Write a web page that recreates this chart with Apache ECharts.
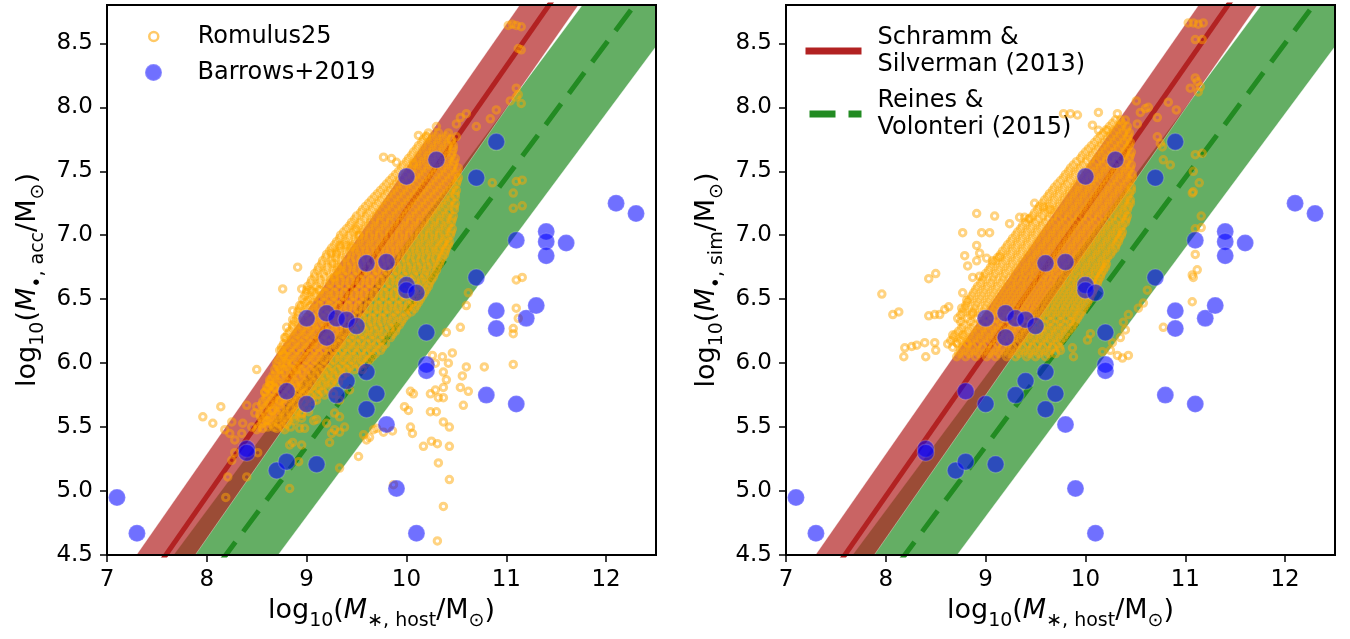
<!DOCTYPE html>
<html><head><meta charset="utf-8">
<script src="https://cdn.jsdelivr.net/npm/echarts@6/dist/echarts.min.js"></script>
<style>html,body{margin:0;padding:0;background:#fff}#c{width:1350px;height:639px}</style>
</head><body><div id="c"></div><script>
// ---------- data ----------
const xTicks = [7, 8, 9, 10, 11, 12];
const yTicks = [4.5, 5.0, 5.5, 6.0, 6.5, 7.0, 7.5, 8.0, 8.5];
// relations: [slope, intercept, band half-width (dex)]
const ssRelation = [1.12, -4.0, 0.33];          // Schramm & Silverman (2013)
const rvRelation = [1.05, 7.45 - 1.05 * 11, 0.55]; // Reines & Volonteri (2015)

const barrows = [[7.1,4.95],[7.3,4.67],[8.4,5.33],[8.4,5.30],[8.7,5.16],[8.8,5.23],[9.1,5.21],[8.8,5.78],[9.0,5.68],[9.3,5.75],[9.4,5.86],[9.6,5.64],[9.6,5.93],[9.7,5.76],[9.8,5.52],[9.9,5.02],[10.1,4.67],[10.2,5.99],[10.2,5.94],[9.0,6.35],[9.2,6.39],[9.3,6.35],[9.4,6.34],[9.5,6.29],[9.2,6.2],[9.6,6.78],[9.8,6.79],[10.0,6.61],[10.0,6.57],[10.1,6.55],[10.2,6.24],[10.7,6.67],[10.9,6.41],[10.9,6.27],[11.2,6.35],[11.3,6.45],[10.8,5.75],[11.1,5.68],[11.1,6.96],[11.4,7.03],[11.4,6.95],[11.4,6.84],[11.6,6.94],[12.1,7.25],[12.3,7.17],[10.0,7.46],[10.3,7.59],[10.7,7.45],[10.9,7.73]];

const leftSparse = [[11.02,8.64],[11.06,8.65],[11.1,8.64],[11.15,8.63],[11.12,8.46],[11.15,8.45],[11.1,8.15],[11.04,8.05],[11.1,8.08],[11.15,8.03],[11.12,8.1],[10.9,7.98],[10.84,7.91],[10.7,7.85],[10.6,7.95],[10.54,7.92],[10.5,7.87],[11.1,7.42],[11.16,7.43],[11.07,7.33],[10.86,7.41],[9.77,7.61],[9.85,7.6],[9.9,7.57],[10.07,7.56],[10.12,7.78],[10.2,7.77],[10.3,7.85],[10.5,7.77],[11.07,7.21],[11.16,7.23],[11.1,6.65],[11.16,6.67],[11.1,6.43],[11.12,6.35],[11.07,6.27],[11.07,6.23],[11.07,5.99],[10.78,5.97],[10.6,5.97],[10.56,5.9],[10.62,6.55],[10.6,6.45],[10.54,6.28],[10.46,6.08],[10.4,6.24],[10.42,6.0],[10.36,6.05],[10.37,5.93],[10.4,5.87],[10.26,6.06],[10.29,6.0],[10.54,5.81],[10.62,5.78],[10.57,5.67],[10.37,5.81],[10.29,5.79],[10.24,5.76],[10.32,5.73],[10.37,5.73],[10.04,5.78],[10.07,5.76],[9.98,5.66],[10.02,5.63],[10.24,5.62],[10.3,5.62],[10.37,5.54],[10.43,5.5],[10.04,5.5],[10.06,5.45],[10.17,5.35],[10.25,5.39],[10.31,5.37],[10.43,5.35],[10.32,5.22],[10.43,5.09],[10.37,4.88],[10.31,4.61],[9.87,5.05],[9.77,5.46],[9.86,5.47],[9.67,5.48],[9.63,5.42],[7.96,5.58],[8.06,5.53],[8.14,5.66],[8.18,5.48],[8.25,5.54],[8.23,5.45],[8.28,5.4],[8.25,5.24],[8.21,5.11],[8.19,4.95],[8.28,5.3],[8.4,5.11],[8.51,5.3],[8.4,5.67],[8.5,5.66],[8.36,5.53],[8.45,5.5],[8.5,5.48],[8.35,5.45],[8.48,5.61],[8.58,5.77],[8.63,5.83],[8.6,5.55],[8.56,5.49],[8.7,5.49],[8.78,5.48],[8.66,5.63],[8.73,5.71],[8.83,5.02],[8.92,5.23],[8.95,5.36],[8.83,5.36],[8.86,5.38],[8.93,5.49],[8.98,5.49],[9.07,5.55],[9.1,5.56],[9.2,5.53],[9.25,5.45],[9.28,5.48],[9.33,5.46],[9.23,5.38],[9.38,5.5],[9.33,5.18],[9.52,5.27],[9.6,5.4],[9.57,5.44],[9.7,5.49],[8.9,5.81],[8.97,5.76],[9.02,5.62],[9.1,5.71],[9.27,5.76],[9.33,5.71],[9.43,5.79],[9.28,5.61],[9.33,5.58],[8.95,5.61],[8.95,5.57],[8.91,6.75],[8.76,6.58],[8.95,6.58],[9.0,6.57],[9.05,6.56],[8.93,6.45],[9.01,6.49],[8.8,6.28],[8.78,6.2],[8.75,6.1],[8.77,6.06],[8.5,5.95],[8.63,5.87],[8.6,5.81],[8.68,5.81],[8.73,5.95],[8.8,6.0],[8.9,5.95],[8.86,6.34],[8.86,6.41],[9.13,6.57],[9.25,6.86],[9.3,6.86],[9.33,6.92],[9.4,6.92],[9.45,6.91],[9.5,7.04],[9.52,7.0],[9.27,6.78],[9.33,6.73],[9.27,6.67]];

// dense core of the left cloud, one row of read positions per y
const leftCoreY = [5.5,5.525,5.55,5.575,5.6,5.625,5.65,5.675,5.7,5.725,5.75,5.775,5.8,5.825,5.85,5.875,5.9,5.925,5.95,5.975,6.0,6.025,6.05,6.075,6.1,6.125,6.15,6.175,6.2,6.225,6.25,6.275,6.3,6.325,6.35,6.375,6.4,6.425,6.45,6.475,6.5,6.525,6.55,6.575,6.6,6.625,6.65,6.675,6.7,6.725,6.75,6.775,6.8,6.825,6.85,6.875,6.9,6.925,6.95,6.975,7.0,7.025,7.05,7.075,7.1,7.125,7.15,7.175,7.2,7.225,7.25,7.275,7.3,7.325,7.35,7.375,7.4,7.425,7.45,7.475,7.5,7.525,7.55,7.575,7.6,7.625,7.65,7.675,7.7,7.725,7.75,7.775,7.8];
const leftCoreX = [
 [8.52,8.61,8.67,8.76,8.84],
 [8.55,8.64,8.72,8.8],
 [8.56,8.63,8.72,8.81,8.88],
 [8.54,8.63,8.71,8.79,8.87],
 [8.53,8.62,8.71,8.79,8.87,8.95],
 [8.57,8.65,8.74,8.83,8.91],
 [8.58,8.66,8.74,8.84,8.92,9.0],
 [8.55,8.63,8.72,8.8,8.89,8.97],
 [8.56,8.64,8.73,8.82,8.9,8.98,9.06],
 [8.59,8.67,8.76,8.85,8.93,9.02],
 [8.6,8.69,8.78,8.86,8.95,9.03,9.11,9.18],
 [8.58,8.66,8.75,8.83,8.92,9.0,9.09,9.16],
 [8.61,8.68,8.77,8.85,8.94,9.03,9.12,9.22],
 [8.64,8.72,8.8,8.89,8.97,9.06,9.15,9.24],
 [8.63,8.72,8.81,8.89,8.98,9.07,9.16,9.25,9.32],
 [8.65,8.74,8.83,8.92,9.01,9.1,9.19,9.28],
 [8.66,8.74,8.83,8.91,9.0,9.09,9.18,9.27,9.36],
 [8.69,8.78,8.87,8.96,9.05,9.14,9.23,9.32,9.4],
 [8.68,8.77,8.86,8.95,9.04,9.13,9.22,9.31,9.4,9.48,9.56],
 [8.71,8.8,8.89,8.98,9.07,9.16,9.25,9.35,9.44,9.53],
 [8.7,8.79,8.87,8.96,9.05,9.14,9.23,9.33,9.42,9.52,9.6],
 [8.72,8.81,8.9,8.99,9.08,9.17,9.27,9.36,9.45,9.55,9.63],
 [8.74,8.83,8.92,9.01,9.1,9.19,9.28,9.38,9.47,9.57,9.66],
 [8.76,8.85,8.94,9.03,9.12,9.22,9.31,9.4,9.5,9.6,9.69],
 [8.73,8.82,8.9,8.99,9.08,9.17,9.27,9.36,9.46,9.55,9.65,9.74],
 [8.75,8.84,8.93,9.02,9.11,9.2,9.3,9.39,9.48,9.58,9.67,9.76],
 [8.77,8.86,8.95,9.04,9.13,9.22,9.32,9.41,9.5,9.6,9.7,9.79],
 [8.8,8.89,8.98,9.07,9.16,9.26,9.35,9.45,9.55,9.65,9.75],
 [8.79,8.88,8.97,9.06,9.15,9.24,9.34,9.43,9.53,9.63,9.73,9.84],
 [8.81,8.9,8.99,9.08,9.17,9.27,9.36,9.46,9.56,9.66,9.76,9.86],
 [8.83,8.92,9.01,9.1,9.19,9.28,9.38,9.48,9.58,9.68,9.78,9.89],
 [8.86,8.95,9.04,9.13,9.23,9.32,9.42,9.52,9.62,9.72,9.83,9.9],
 [8.86,8.95,9.04,9.13,9.22,9.32,9.41,9.51,9.61,9.71,9.82,9.93],
 [8.88,8.97,9.06,9.16,9.25,9.35,9.45,9.55,9.65,9.75,9.85,9.95],
 [8.9,8.99,9.08,9.17,9.27,9.36,9.46,9.56,9.66,9.76,9.87,9.97],
 [8.92,9.02,9.11,9.2,9.3,9.4,9.5,9.6,9.7,9.8,9.9,10.0],
 [8.91,9.0,9.09,9.18,9.28,9.37,9.47,9.57,9.67,9.77,9.88,9.98,10.05],
 [8.93,9.02,9.12,9.21,9.31,9.41,9.51,9.61,9.71,9.81,9.91,10.01,10.08],
 [8.95,9.04,9.13,9.23,9.32,9.42,9.52,9.62,9.72,9.82,9.92,10.02,10.1],
 [8.98,9.07,9.17,9.26,9.36,9.46,9.56,9.66,9.76,9.86,9.96,10.06,10.12],
 [8.96,9.05,9.14,9.24,9.33,9.43,9.53,9.63,9.73,9.83,9.93,10.04,10.14],
 [8.98,9.08,9.17,9.27,9.37,9.47,9.57,9.67,9.77,9.87,9.97,10.07,10.16],
 [9.0,9.09,9.19,9.28,9.38,9.48,9.58,9.68,9.78,9.88,9.98,10.08,10.18],
 [9.03,9.12,9.22,9.32,9.42,9.52,9.62,9.72,9.82,9.92,10.02,10.12,10.2],
 [9.01,9.1,9.2,9.29,9.39,9.49,9.59,9.69,9.79,9.9,10.0,10.11,10.22],
 [9.04,9.13,9.23,9.33,9.43,9.53,9.63,9.73,9.83,9.93,10.03,10.14,10.23],
 [9.05,9.14,9.24,9.34,9.44,9.54,9.64,9.74,9.84,9.94,10.05,10.15,10.25],
 [9.08,9.18,9.28,9.38,9.48,9.58,9.68,9.78,9.88,9.98,10.08,10.18,10.27],
 [9.08,9.17,9.27,9.36,9.46,9.56,9.66,9.76,9.86,9.96,10.07,10.18,10.28],
 [9.11,9.2,9.3,9.4,9.5,9.6,9.7,9.8,9.9,10.0,10.1,10.2,10.3],
 [9.12,9.21,9.31,9.41,9.51,9.61,9.71,9.81,9.91,10.01,10.11,10.21,10.31],
 [9.15,9.25,9.35,9.45,9.55,9.65,9.75,9.85,9.95,10.05,10.15,10.25,10.33],
 [9.16,9.25,9.35,9.44,9.54,9.64,9.74,9.84,9.94,10.04,10.14,10.24,10.34],
 [9.19,9.29,9.39,9.49,9.59,9.69,9.79,9.89,9.99,10.09,10.19,10.29,10.36],
 [9.2,9.3,9.4,9.5,9.6,9.7,9.8,9.9,10.0,10.1,10.2,10.3,10.38],
 [9.23,9.33,9.43,9.53,9.63,9.73,9.83,9.93,10.03,10.13,10.23,10.32,10.39],
 [9.25,9.34,9.44,9.54,9.64,9.74,9.84,9.94,10.04,10.14,10.24,10.33,10.4],
 [9.28,9.37,9.47,9.57,9.67,9.77,9.87,9.97,10.07,10.17,10.27,10.36,10.42],
 [9.3,9.39,9.49,9.59,9.69,9.79,9.89,9.99,10.09,10.19,10.29,10.38,10.43],
 [9.33,9.42,9.52,9.62,9.72,9.82,9.92,10.02,10.12,10.22,10.32,10.41],
 [9.34,9.43,9.53,9.63,9.73,9.83,9.93,10.03,10.13,10.23,10.33,10.44],
 [9.37,9.47,9.57,9.67,9.77,9.87,9.97,10.07,10.17,10.27,10.37,10.45],
 [9.4,9.49,9.59,9.69,9.79,9.89,9.99,10.09,10.19,10.29,10.39,10.46],
 [9.43,9.52,9.62,9.72,9.82,9.92,10.02,10.12,10.22,10.32,10.42],
 [9.45,9.54,9.64,9.74,9.84,9.94,10.04,10.14,10.24,10.34,10.45],
 [9.48,9.58,9.68,9.78,9.88,9.98,10.08,10.18,10.28,10.38,10.46],
 [9.5,9.6,9.7,9.8,9.9,10.0,10.1,10.2,10.3,10.4,10.47],
 [9.54,9.63,9.73,9.83,9.93,10.03,10.13,10.23,10.33,10.43],
 [9.56,9.66,9.76,9.86,9.96,10.06,10.16,10.26,10.36,10.48],
 [9.59,9.69,9.79,9.89,9.99,10.09,10.19,10.29,10.39,10.48],
 [9.62,9.72,9.82,9.92,10.02,10.12,10.22,10.32,10.42,10.49],
 [9.65,9.75,9.85,9.95,10.05,10.15,10.25,10.35,10.45],
 [9.68,9.78,9.88,9.98,10.08,10.18,10.28,10.38,10.49],
 [9.71,9.81,9.91,10.01,10.11,10.21,10.31,10.41,10.49],
 [9.74,9.84,9.94,10.04,10.14,10.24,10.34,10.44,10.5],
 [9.77,9.87,9.97,10.07,10.17,10.27,10.37,10.47],
 [9.8,9.9,10.0,10.1,10.2,10.3,10.4,10.5],
 [9.83,9.93,10.03,10.13,10.23,10.33,10.43,10.51],
 [9.86,9.96,10.06,10.16,10.26,10.36,10.46,10.52],
 [9.89,9.99,10.09,10.19,10.29,10.39,10.49],
 [9.92,10.02,10.12,10.22,10.32,10.42,10.51],
 [9.95,10.05,10.15,10.25,10.35,10.45,10.52],
 [9.97,10.07,10.17,10.27,10.37,10.47],
 [10.0,10.1,10.2,10.3,10.4,10.48],
 [10.02,10.12,10.22,10.32,10.42,10.49],
 [10.05,10.15,10.25,10.35,10.45],
 [10.07,10.17,10.27,10.37,10.46],
 [10.1,10.2,10.3,10.4,10.47],
 [10.12,10.22,10.32,10.42,10.47],
 [10.15,10.25,10.35,10.45],
 [10.17,10.27,10.37,10.45],
 [10.2,10.3,10.4],
 [10.22,10.32,10.42]
];

const rightSparse = [[11.03,8.66],[11.08,8.66],[11.13,8.65],[11.18,8.66],[11.1,8.53],[11.17,8.53],[11.1,8.23],[11.12,8.2],[11.05,8.15],[11.13,8.12],[11.15,8.16],[10.83,8.04],[10.91,7.98],[10.72,7.92],[10.51,8.05],[10.55,7.96],[10.6,7.99],[10.63,8.0],[9.78,7.95],[9.85,7.95],[9.92,7.94],[10.13,7.96],[10.07,7.86],[10.13,7.82],[10.22,7.82],[10.32,7.95],[10.35,7.9],[10.52,7.87],[10.72,7.77],[10.75,7.72],[11.1,7.63],[11.17,7.64],[11.08,7.5],[11.14,7.41],[11.08,7.34],[10.85,7.55],[10.78,7.59],[10.77,7.69],[7.96,6.54],[8.07,6.38],[8.13,6.4],[8.19,6.12],[8.18,6.05],[8.26,6.13],[8.31,6.14],[8.39,6.16],[8.4,6.05],[8.49,6.16],[8.5,6.1],[8.43,6.66],[8.5,6.7],[8.43,6.37],[8.49,6.38],[8.54,6.38],[8.59,6.42],[8.63,6.44],[8.67,6.22],[8.71,6.16],[8.77,6.22],[8.81,6.16],[8.77,7.02],[8.91,7.17],[9.09,7.15],[8.96,7.02],[9.04,7.02],[8.79,6.84],[8.82,6.76],[8.91,6.92],[8.94,6.86],[8.91,6.8],[9.01,6.82],[9.07,6.8],[8.87,6.67],[8.94,6.68],[9.14,6.83],[9.24,7.09],[9.34,7.14],[9.39,7.14],[9.44,7.13],[9.49,7.25],[9.58,7.22],[9.65,7.2],[8.77,6.55],[8.81,6.49],[8.76,6.43],[8.87,6.39],[11.07,7.33],[11.16,7.15],[11.1,7.05],[11.16,7.06],[11.1,6.85],[11.12,6.73],[11.07,6.69],[11.08,6.67],[11.07,6.48],[10.78,6.28],[10.62,6.57],[10.58,6.47],[10.53,6.43],[10.43,6.38],[10.38,6.32],[10.4,6.26],[10.35,6.2],[10.27,6.16],[10.32,6.06],[10.37,6.04],[10.43,6.06],[10.25,6.1],[10.17,6.09],[9.87,6.12],[9.88,6.05],[10.02,6.18],[10.05,6.23]];

// dense core of the right cloud, one row of read positions per y
const rightCoreY = [6.05,6.075,6.1,6.125,6.15,6.175,6.2,6.225,6.25,6.275,6.3,6.325,6.35,6.375,6.4,6.425,6.45,6.475,6.5,6.525,6.55,6.575,6.6,6.625,6.65,6.675,6.7,6.725,6.75,6.775,6.8,6.825,6.85,6.875,6.9,6.925,6.95,6.975,7.0,7.025,7.05,7.075,7.1,7.125,7.15,7.175,7.2,7.225,7.25,7.275,7.3,7.325,7.35,7.375,7.4,7.425,7.45,7.475,7.5,7.525,7.55,7.575,7.6,7.625,7.65,7.675,7.7,7.725,7.75,7.775,7.8,7.825,7.85,7.875,7.9];
const rightCoreX = [
 [8.71,8.8,8.9,9.01,9.1,9.21,9.3,9.41,9.5,9.6],
 [8.73,8.83,8.93,9.03,9.13,9.23,9.33,9.43,9.53,9.63,9.7],
 [8.75,8.85,8.95,9.05,9.15,9.25,9.35,9.45,9.55,9.65,9.75],
 [8.67,8.77,8.87,8.97,9.07,9.17,9.27,9.37,9.47,9.57,9.67,9.74],
 [8.62,8.72,8.82,8.92,9.02,9.12,9.22,9.32,9.42,9.52,9.62,9.72],
 [8.65,8.75,8.85,8.95,9.05,9.15,9.25,9.35,9.45,9.55,9.65,9.75],
 [8.68,8.78,8.88,8.98,9.08,9.18,9.28,9.38,9.48,9.58,9.68,9.78],
 [8.7,8.8,8.9,9.0,9.1,9.2,9.3,9.4,9.5,9.6,9.7,9.8],
 [8.73,8.83,8.93,9.03,9.13,9.23,9.33,9.43,9.53,9.63,9.73,9.83],
 [8.76,8.86,8.96,9.06,9.16,9.26,9.36,9.46,9.56,9.66,9.76,9.86],
 [8.78,8.88,8.98,9.08,9.18,9.28,9.38,9.48,9.58,9.68,9.78,9.88],
 [8.75,8.85,8.95,9.05,9.15,9.25,9.35,9.45,9.55,9.65,9.75,9.85,9.9],
 [8.72,8.82,8.92,9.02,9.12,9.22,9.32,9.42,9.52,9.62,9.72,9.82,9.92],
 [8.75,8.85,8.95,9.05,9.15,9.25,9.35,9.45,9.55,9.65,9.75,9.85,9.94],
 [8.77,8.87,8.97,9.07,9.17,9.27,9.37,9.47,9.57,9.67,9.77,9.87,9.96],
 [8.79,8.89,8.99,9.09,9.19,9.29,9.39,9.49,9.59,9.69,9.79,9.89,9.98],
 [8.8,8.9,9.0,9.1,9.2,9.3,9.4,9.5,9.6,9.7,9.8,9.9,10.0],
 [8.82,8.92,9.02,9.12,9.22,9.32,9.42,9.52,9.62,9.72,9.82,9.92,10.02],
 [8.84,8.94,9.04,9.14,9.24,9.34,9.44,9.54,9.64,9.74,9.84,9.94,10.04],
 [8.86,8.96,9.06,9.16,9.26,9.36,9.46,9.56,9.66,9.76,9.86,9.96,10.05],
 [8.88,8.98,9.08,9.18,9.28,9.38,9.48,9.58,9.68,9.78,9.88,9.98,10.07],
 [8.9,9.0,9.1,9.2,9.3,9.4,9.5,9.6,9.7,9.8,9.9,10.0,10.08],
 [8.92,9.02,9.12,9.22,9.32,9.42,9.52,9.62,9.72,9.82,9.92,10.02,10.1],
 [8.95,9.05,9.15,9.25,9.35,9.45,9.55,9.65,9.75,9.85,9.95,10.05,10.12],
 [8.97,9.07,9.17,9.27,9.37,9.47,9.57,9.67,9.77,9.87,9.97,10.07,10.13],
 [8.98,9.08,9.18,9.28,9.38,9.48,9.58,9.68,9.78,9.88,9.98,10.08,10.15],
 [9.0,9.1,9.2,9.3,9.4,9.5,9.6,9.7,9.8,9.9,10.0,10.1,10.16],
 [9.03,9.13,9.23,9.33,9.43,9.53,9.63,9.73,9.83,9.93,10.03,10.13,10.18],
 [9.05,9.15,9.25,9.35,9.45,9.55,9.65,9.75,9.85,9.95,10.05,10.15,10.2],
 [9.07,9.17,9.27,9.37,9.47,9.57,9.67,9.77,9.87,9.97,10.07,10.17,10.21],
 [9.1,9.2,9.3,9.4,9.5,9.6,9.7,9.8,9.9,10.0,10.1,10.2],
 [9.12,9.22,9.32,9.42,9.52,9.62,9.72,9.82,9.92,10.02,10.12,10.22],
 [9.15,9.25,9.35,9.45,9.55,9.65,9.75,9.85,9.95,10.05,10.15,10.25],
 [9.17,9.27,9.37,9.47,9.57,9.67,9.77,9.87,9.97,10.07,10.17,10.27],
 [9.2,9.3,9.4,9.5,9.6,9.7,9.8,9.9,10.0,10.1,10.2,10.3],
 [9.22,9.32,9.42,9.52,9.62,9.72,9.82,9.92,10.02,10.12,10.22,10.31],
 [9.25,9.35,9.45,9.55,9.65,9.75,9.85,9.95,10.05,10.15,10.25,10.33],
 [9.27,9.37,9.47,9.57,9.67,9.77,9.87,9.97,10.07,10.17,10.27,10.34],
 [9.3,9.4,9.5,9.6,9.7,9.8,9.9,10.0,10.1,10.2,10.3,10.36],
 [9.32,9.42,9.52,9.62,9.72,9.82,9.92,10.02,10.12,10.22,10.32,10.37],
 [9.35,9.45,9.55,9.65,9.75,9.85,9.95,10.05,10.15,10.25,10.35],
 [9.37,9.47,9.57,9.67,9.77,9.87,9.97,10.07,10.17,10.27,10.37],
 [9.4,9.5,9.6,9.7,9.8,9.9,10.0,10.1,10.2,10.3,10.4],
 [9.43,9.53,9.63,9.73,9.83,9.93,10.03,10.13,10.23,10.33,10.41],
 [9.47,9.57,9.67,9.77,9.87,9.97,10.07,10.17,10.27,10.37,10.42],
 [9.49,9.59,9.69,9.79,9.89,9.99,10.09,10.19,10.29,10.39],
 [9.52,9.62,9.72,9.82,9.92,10.02,10.12,10.22,10.32,10.42],
 [9.54,9.64,9.74,9.84,9.94,10.04,10.14,10.24,10.34,10.43],
 [9.57,9.67,9.77,9.87,9.97,10.07,10.17,10.27,10.37,10.45],
 [9.59,9.69,9.79,9.89,9.99,10.09,10.19,10.29,10.39,10.45],
 [9.62,9.72,9.82,9.92,10.02,10.12,10.22,10.32,10.42],
 [9.64,9.74,9.84,9.94,10.04,10.14,10.24,10.34,10.44],
 [9.67,9.77,9.87,9.97,10.07,10.17,10.27,10.37,10.46],
 [9.69,9.79,9.89,9.99,10.09,10.19,10.29,10.39,10.46],
 [9.72,9.82,9.92,10.02,10.12,10.22,10.32,10.42],
 [9.75,9.85,9.95,10.05,10.15,10.25,10.35,10.45],
 [9.78,9.88,9.98,10.08,10.18,10.28,10.38,10.47],
 [9.8,9.9,10.0,10.1,10.2,10.3,10.4,10.47],
 [9.83,9.93,10.03,10.13,10.23,10.33,10.43],
 [9.85,9.95,10.05,10.15,10.25,10.35,10.45],
 [9.88,9.98,10.08,10.18,10.28,10.38,10.46],
 [9.91,10.01,10.11,10.21,10.31,10.41],
 [9.95,10.05,10.15,10.25,10.35,10.44],
 [9.97,10.07,10.17,10.27,10.37,10.45],
 [10.0,10.1,10.2,10.3,10.4,10.46],
 [10.03,10.13,10.23,10.33,10.42],
 [10.06,10.16,10.26,10.36,10.44],
 [10.09,10.19,10.29,10.39,10.45],
 [10.12,10.22,10.32,10.42],
 [10.15,10.25,10.35,10.43],
 [10.18,10.28,10.38,10.44],
 [10.21,10.31,10.41],
 [10.24,10.34,10.42],
 [10.27,10.37],
 [10.3,10.4]
];

// ---------- build ----------
function rows(ys, xs) { const out = []; ys.forEach((y, i) => xs[i].forEach(x => out.push([x, y]))); return out; }
const leftOrange = leftSparse.concat(rows(leftCoreY, leftCoreX));
const rightOrange = rightSparse.concat(rows(rightCoreY, rightCoreX));

const RED = '#b22222', GREEN = '#228b22';
const RED_BAND = 'rgba(178,34,34,0.7)', GREEN_BAND = 'rgba(34,139,34,0.7)';
const ORANGE = 'rgba(255,165,0,0.62)', BLUE = 'rgba(0,0,255,0.7)';
const FONT = 'DejaVu Sans';
const DASH = [26, 13];

function bandSeries(idx, rel, color, z) {
  const [a, b, s] = rel;
  return {
    type: 'custom', xAxisIndex: idx, yAxisIndex: idx, clip: true, silent: true, z: z,
    data: [[0, 0]],
    renderItem: function (params, api) {
      const y0 = 3.5, y1 = 9.8;
      const p = [[(y0 - b - s) / a, y0], [(y1 - b - s) / a, y1], [(y1 - b + s) / a, y1], [(y0 - b + s) / a, y0]].map(q => api.coord(q));
      return { type: 'polygon', shape: { points: p }, style: { fill: color, stroke: 'rgba(255,255,255,0.35)', lineWidth: 1 } };
    }
  };
}
function lineSeries(idx, rel, name, color, dashed) {
  const [a, b] = rel;
  return {
    type: 'line', name: name, xAxisIndex: idx, yAxisIndex: idx, clip: true, silent: true, z: 3,
    symbol: 'none', data: [[6.5, a * 6.5 + b], [13, a * 13 + b]],
    lineStyle: { color: color, width: 5, type: dashed ? DASH : 'solid', cap: 'butt' },
    itemStyle: { color: color }
  };
}
function orangeSeries(idx, data) {
  return { type: 'scatter', name: 'Romulus25', xAxisIndex: idx, yAxisIndex: idx, data: data, silent: true, z: 4,
    symbol: 'circle', symbolSize: 6.5, large: false, progressive: 0,
    itemStyle: { color: 'rgba(0,0,0,0)', borderColor: ORANGE, borderWidth: 3 } };
}
function blueSeries(idx) {
  return { type: 'scatter', name: 'Barrows+2019', xAxisIndex: idx, yAxisIndex: idx, data: barrows, silent: true, z: 5,
    symbol: 'circle', symbolSize: 17,
    itemStyle: { color: BLUE, borderColor: 'rgba(255,255,255,0.22)', borderWidth: 1.5 } };
}

const subPad = [0, 0, 7, 0];
function richSet(sz) {
  return {
    n: { fontSize: sz, fontFamily: FONT, color: '#000', verticalAlign: 'bottom', padding: subPad },
    i: { fontSize: sz, fontFamily: FONT, fontStyle: 'italic', color: '#000', verticalAlign: 'bottom', padding: subPad },
    s: { fontSize: Math.round(sz * 0.72), fontFamily: FONT, color: '#000', verticalAlign: 'bottom' }
  };
}
const xName = '{n|log}{s|10}{n|(}{i|M}{s|∗, host}{n|/M}{s|⊙}{n|)}';
const yNameL = '{n|log}{s|10}{n|(}{i|M}{s|•, acc}{n|/M}{s|⊙}{n|)}';
const yNameR = '{n|log}{s|10}{n|(}{i|M}{s|•, sim}{n|/M}{s|⊙}{n|)}';

function xAxis(idx) {
  return {
    type: 'value', gridIndex: idx, min: 7, max: 12.5,
    axisLine: { show: false }, splitLine: { show: false },
    axisTick: { show: true, length: 7, lineStyle: { color: '#000', width: 1.5 }, customValues: xTicks },
    axisLabel: { customValues: xTicks, fontSize: 23, fontFamily: FONT, color: '#000', margin: 14 },
    name: xName, nameLocation: 'middle', nameGap: 42,
    nameTextStyle: { rich: richSet(27) }
  };
}
function yAxis(idx, nm) {
  return {
    type: 'value', gridIndex: idx, min: 4.5, max: 8.8,
    axisLine: { show: false }, splitLine: { show: false },
    axisTick: { show: true, length: 7, lineStyle: { color: '#000', width: 1.5 }, customValues: yTicks },
    axisLabel: { customValues: yTicks, fontSize: 23, fontFamily: FONT, color: '#000', margin: 14,
      formatter: v => v.toFixed(1) },
    name: nm, nameLocation: 'middle', nameGap: 59, nameRotate: 90,
    nameTextStyle: { rich: richSet(27) }
  };
}
const lineLegendItem = (name, color, dashed) => ({
  name: name,
  itemStyle: { color: 'rgba(0,0,0,0)', opacity: 0, borderWidth: 0 },
  lineStyle: { color: color, width: 7, type: dashed ? DASH : 'solid', dashOffset: dashed ? 35 : 0, cap: 'butt' }
});

const option = {
  animation: false,
  backgroundColor: '#fff',
  grid: [
    { left: 107, top: 5, width: 549, height: 550, show: true, borderColor: '#000', borderWidth: 2, backgroundColor: 'rgba(0,0,0,0)', z: 10 },
    { left: 786, top: 5, width: 549, height: 550, show: true, borderColor: '#000', borderWidth: 2, backgroundColor: 'rgba(0,0,0,0)', z: 10 }
  ],
  xAxis: [xAxis(0), xAxis(1)],
  yAxis: [yAxis(0, yNameL), yAxis(1, yNameR)],
  legend: [
    { left: 143, top: 18, itemWidth: 78, itemHeight: 9, selectedMode: false,
      textStyle: { fontSize: 24, fontFamily: FONT, color: '#000', lineHeight: 27 },
      data: [{ name: 'Romulus25', icon: 'circle', itemStyle: { color: 'rgba(0,0,0,0)', borderColor: 'rgba(255,165,0,0.75)', borderWidth: 2.5 } }] },
    { left: 139, top: 54, itemWidth: 78, itemHeight: 17, selectedMode: false,
      textStyle: { fontSize: 24, fontFamily: FONT, color: '#000', lineHeight: 27 },
      data: [{ name: 'Barrows+2019', icon: 'circle', itemStyle: { color: BLUE } }] },
    { left: 797, top: 19, orient: 'vertical', itemWidth: 56, itemHeight: 14, itemGap: 9, selectedMode: false,
      textStyle: { fontSize: 24, fontFamily: FONT, color: '#000', lineHeight: 27, padding: [0, 0, 0, 11] },
      formatter: n => n === 'Schramm & Silverman (2013)' ? 'Schramm &\nSilverman (2013)' : 'Reines &\nVolonteri (2015)',
      data: [lineLegendItem('Schramm & Silverman (2013)', RED, false), lineLegendItem('Reines & Volonteri (2015)', GREEN, true)] }
  ],
  series: [
    bandSeries(0, rvRelation, GREEN_BAND, 1), bandSeries(0, ssRelation, RED_BAND, 2),
    lineSeries(0, ssRelation, 'Schramm & Silverman (2013)', RED, false),
    lineSeries(0, rvRelation, 'Reines & Volonteri (2015)', GREEN, true),
    orangeSeries(0, leftOrange), blueSeries(0),
    bandSeries(1, rvRelation, GREEN_BAND, 1), bandSeries(1, ssRelation, RED_BAND, 2),
    lineSeries(1, ssRelation, 'Schramm & Silverman (2013)', RED, false),
    lineSeries(1, rvRelation, 'Reines & Volonteri (2015)', GREEN, true),
    orangeSeries(1, rightOrange), blueSeries(1)
  ]
};
const chart = echarts.init(document.getElementById('c'), null, { renderer: 'canvas' });
chart.setOption(option);
</script></body></html>
